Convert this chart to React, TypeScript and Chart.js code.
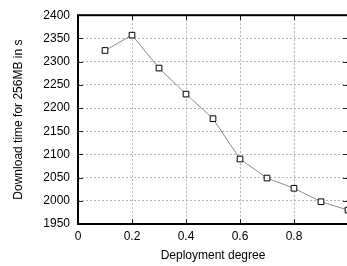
import React, { useEffect, useRef } from "react";
import { Chart, registerables } from "chart.js";

Chart.register(...registerables);

const degrees = [0.1, 0.2, 0.3, 0.4, 0.5, 0.6, 0.7, 0.8, 0.9, 1.0];
const times = [2324, 2357, 2286, 2230, 2177, 2090, 2049, 2027, 1998, 1980];
const xTitle = "Deployment degree";
const yTitle = "Download time for 256MB in s";

const FONT = "'Liberation Sans', Arial, Helvetica, sans-serif";

const framePlugin = {
  id: "frame",
  afterDatasetsDraw(chart: any) {
    const { ctx, chartArea } = chart;
    const { left, right, top, bottom } = chartArea;
    const xs = chart.scales.x;
    const ys = chart.scales.y;
    ctx.save();
    ctx.strokeStyle = "#222";
    ctx.lineWidth = 1;
    const tl = 5;
    ctx.beginPath();
    xs.ticks.forEach((t: any) => {
      const px = Math.round(xs.getPixelForValue(t.value)) + 0.5;
      ctx.moveTo(px, bottom);
      ctx.lineTo(px, bottom - tl);
      ctx.moveTo(px, top);
      ctx.lineTo(px, top + tl);
    });
    ys.ticks.forEach((t: any) => {
      const py = Math.round(ys.getPixelForValue(t.value)) + 0.5;
      ctx.moveTo(left, py);
      ctx.lineTo(left + tl, py);
      ctx.moveTo(right, py);
      ctx.lineTo(right - tl, py);
    });
    ctx.stroke();
    ctx.strokeStyle = "#000";
    ctx.lineWidth = 2;
    ctx.strokeRect(left, top, right - left, bottom - top);
    ctx.restore();
  },
};

export default function App() {
  const ref = useRef<HTMLCanvasElement>(null);
  useEffect(() => {
    if (!ref.current) return;
    const chart = new Chart(ref.current, {
      type: "scatter",
      data: {
        datasets: [
          {
            data: degrees.map((d, i) => ({ x: d, y: times[i] })),
            showLine: true,
            borderColor: "#8c8c8c",
            borderWidth: 1,
            pointStyle: "rect",
            pointRadius: 4,
            pointBorderWidth: 1,
            pointBorderColor: "#000",
            pointBackgroundColor: "#fff",
          },
        ],
      },
      options: {
        responsive: false,
        animation: false,
        layout: { padding: { top: 13, right: 12, left: 0, bottom: 0 } },
        plugins: { legend: { display: false }, tooltip: { enabled: false } },
        scales: {
          x: {
            type: "linear",
            min: 0,
            max: 1,
            afterFit: (s: any) => {
              s.height = 42;
            },
            grid: {
              color: "#b4b4b4",
              lineWidth: 1,
              drawTicks: false,
            },
            border: { display: false, dash: [2, 2] },
            ticks: {
              stepSize: 0.2,
              padding: 5,
              color: "#000",
              font: { family: FONT, size: 12 },
              callback: (v: any) =>
                Number(v) >= 1 ? "" : String(Math.round(Number(v) * 10) / 10),
            },
            title: {
              display: true,
              text: xTitle,
              color: "#000",
              font: { family: FONT, size: 12 },
              padding: { top: 0, bottom: 3 },
            },
          },
          y: {
            type: "linear",
            min: 1950,
            max: 2400,
            afterFit: (s: any) => {
              s.width = 78;
            },
            grid: {
              color: "#b4b4b4",
              lineWidth: 1,
              drawTicks: false,
            },
            border: { display: false, dash: [2, 2] },
            ticks: {
              stepSize: 50,
              padding: 8,
              color: "#000",
              font: { family: FONT, size: 12 },
              callback: (v: any) => String(Math.round(Number(v))),
            },
            title: {
              display: true,
              text: yTitle,
              color: "#000",
              font: { family: FONT, size: 12 },
              padding: { top: 11, bottom: 0 },
            },
          },
        },
      } as any,
      plugins: [framePlugin],
    });
    return () => chart.destroy();
  }, []);
  return (
    <div
      style={{
        position: "absolute",
        left: 0,
        top: 0,
        width: 347,
        height: 266,
        overflow: "hidden",
        background: "#fff",
      }}
    >
      <canvas ref={ref} width={360} height={266} style={{ display: "block" }} />
    </div>
  );
}
